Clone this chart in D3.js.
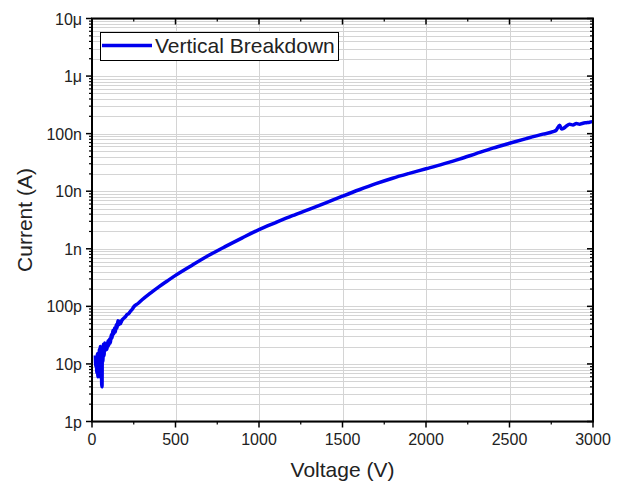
<!DOCTYPE html>
<html><head><meta charset="utf-8">
<script src="https://cdn.jsdelivr.net/npm/d3@7"></script>
<style>body{margin:0;background:#fff}svg{display:block}text{font-family:"Liberation Sans",Arial,sans-serif;fill:#222}</style>
</head><body><svg id="c" width="623" height="487"></svg>
<script>
const voltage = [20,23,26,29,32,35,38,41,44,47,50,53,56,58,60,62,65,68,72,76,80,85,90,95,100,105,110,115,120,125,130,135,140,145,150,155,160,165,170,180,190,200,210,220,230,240,250,275,300,350,400,450,500,600,700,800,900,1000,1100,1200,1300,1400,1500,1600,1700,1800,1900,2000,2100,2200,2300,2400,2500,2600,2700,2760,2780,2800,2812,2825,2840,2860,2880,2900,2920,2940,2960,2980,3000];
const current = [14e-12,9e-12,13e-12,7e-12,15e-12,6e-12,14e-12,8e-12,18e-12,6e-12,20e-12,9e-12,16e-12,4.5e-12,4e-12,19e-12,11e-12,22e-12,14e-12,23e-12,17e-12,22e-12,18e-12,25e-12,21e-12,27e-12,23e-12,32e-12,28e-12,38e-12,33e-12,42e-12,36e-12,48e-12,42e-12,56e-12,48e-12,55e-12,50e-12,58e-12,62e-12,66e-12,72e-12,75e-12,82e-12,88e-12,98e-12,112e-12,130e-12,170e-12,218e-12,275e-12,345e-12,520e-12,770e-12,1.1e-9,1.55e-9,2.15e-9,2.85e-9,3.75e-9,4.85e-9,6.3e-9,8.2e-9,10.6e-9,13.5e-9,16.8e-9,20.4e-9,24.5e-9,29.5e-9,36e-9,45e-9,56e-9,68e-9,82e-9,98e-9,108e-9,115e-9,140e-9,120e-9,124e-9,135e-9,145e-9,142e-9,150e-9,146e-9,152e-9,155e-9,158e-9,162e-9];
const xTicks = [0,500,1000,1500,2000,2500,3000];
const yTicks = [1e-12,1e-11,1e-10,1e-9,1e-8,1e-7,1e-6,1e-5];
const yTickLabels = ["1p","10p","100p","1n","10n","100n","1μ","10μ"];
const seriesName = "Vertical Breakdown";

const L=92, R=593, T=18.5, B=421.5;
const svg=d3.select("#c");
const x=d3.scaleLinear().domain([0,3000]).range([L,R]);
const y=d3.scaleLog().domain([1e-12,1e-5]).range([B,T]);

const minorY=[];
for(let e=-12;e<-5;e++) for(let m=2;m<=9;m++) minorY.push(m*Math.pow(10,e));
const minorX=d3.range(250,3000,500);

const g=svg.append("g");
g.selectAll(".hg").data(yTicks.concat(minorY)).join("line")
 .attr("x1",L).attr("x2",R).attr("y1",d=>Math.round(y(d))+0.5).attr("y2",d=>Math.round(y(d))+0.5)
 .attr("stroke","#d4d4d4").attr("stroke-width",1);
g.selectAll(".vg").data(xTicks.slice(1,-1)).join("line")
 .attr("y1",T).attr("y2",B).attr("x1",d=>Math.round(x(d))+0.5).attr("x2",d=>Math.round(x(d))+0.5)
 .attr("stroke","#d4d4d4").attr("stroke-width",1);

svg.append("path").datum(voltage.map((v,i)=>[v,current[i]]))
 .attr("fill","none").attr("stroke","#0000ee").attr("stroke-width",3.5).attr("stroke-linejoin","round")
 .attr("d",d3.line().curve(d3.curveMonotoneX).x(d=>x(d[0])).y(d=>y(d[1])));

const ax=svg.append("g").attr("stroke","#000");
ax.append("rect").attr("x",L).attr("y",T).attr("width",R-L).attr("height",B-T).attr("fill","none").attr("stroke-width",2);
ax.selectAll(".lt").data(yTicks).join("line").attr("x1",L-6).attr("x2",L).attr("y1",d=>y(d)).attr("y2",d=>y(d)).attr("stroke-width",1.5);
ax.selectAll(".lm").data(minorY).join("line").attr("x1",L-3).attr("x2",L).attr("y1",d=>y(d)).attr("y2",d=>y(d)).attr("stroke-width",1.2);
ax.selectAll(".rt").data(yTicks).join("line").attr("x1",R-6).attr("x2",R).attr("y1",d=>y(d)).attr("y2",d=>y(d)).attr("stroke-width",1.5);
ax.selectAll(".rm").data(minorY).join("line").attr("x1",R-3).attr("x2",R).attr("y1",d=>y(d)).attr("y2",d=>y(d)).attr("stroke-width",1.2);
ax.selectAll(".bt").data(xTicks).join("line").attr("y1",B).attr("y2",B+6).attr("x1",d=>x(d)).attr("x2",d=>x(d)).attr("stroke-width",1.5);
ax.selectAll(".bm").data(minorX).join("line").attr("y1",B).attr("y2",B+3).attr("x1",d=>x(d)).attr("x2",d=>x(d)).attr("stroke-width",1.2);
ax.selectAll(".tt").data(xTicks).join("line").attr("y1",T).attr("y2",T+6).attr("x1",d=>x(d)).attr("x2",d=>x(d)).attr("stroke-width",1.5);
ax.selectAll(".tm").data(minorX).join("line").attr("y1",T).attr("y2",T+3).attr("x1",d=>x(d)).attr("x2",d=>x(d)).attr("stroke-width",1.2);

svg.selectAll(".xl").data(xTicks).join("text").attr("x",d=>x(d)).attr("y",B+23).attr("text-anchor","middle").attr("font-size",16).text(d=>d);
svg.selectAll(".yl").data(yTicks).join("text").attr("x",L-10).attr("y",d=>y(d)+6).attr("text-anchor","end").attr("font-size",16).text((d,i)=>yTickLabels[i]);

svg.append("text").attr("x",(L+R)/2).attr("y",477).attr("text-anchor","middle").attr("font-size",21).text("Voltage (V)");
svg.append("text").attr("transform","translate(32,"+((T+B)/2)+") rotate(-90)").attr("text-anchor","middle").attr("font-size",21).text("Current (A)");

const lg=svg.append("g");
lg.append("rect").attr("x",100.5).attr("y",32.5).attr("width",238).attr("height",28).attr("fill","#fff").attr("stroke","#000").attr("stroke-width",1);
lg.append("line").attr("x1",102).attr("x2",152).attr("y1",45.5).attr("y2",45.5).attr("stroke","#0000ee").attr("stroke-width",3.5);
lg.append("text").attr("x",155).attr("y",53).attr("font-size",21).text(seriesName);
</script></body></html>
